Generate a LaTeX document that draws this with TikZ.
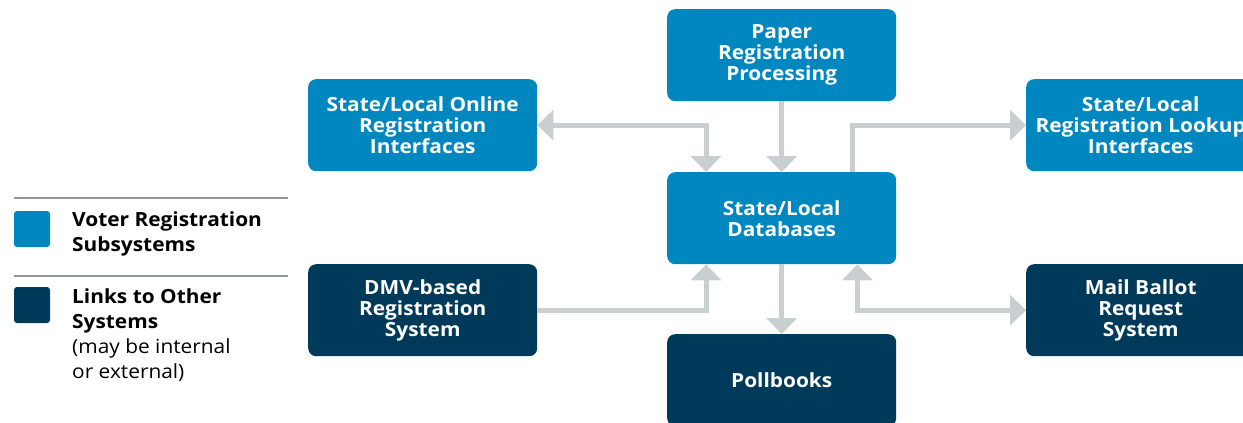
\documentclass[tikz,border=0pt]{standalone}
\usepackage{fontspec}
\setmainfont{Open Sans}[FakeStretch=1.07]
\usetikzlibrary{arrows.meta}
\definecolor{subsys}{RGB}{0,135,191}
\definecolor{links}{RGB}{0,58,90}
\definecolor{conngray}{RGB}{201,206,209}
\definecolor{rulegray}{RGB}{142,151,156}
\begin{document}
\begin{tikzpicture}[x=1pt,y=-1pt,
  sysbox/.style={rectangle,rounded corners=8pt,minimum width=229pt,minimum height=92pt,
    anchor=north west,inner sep=0pt,align=center,text=white,
    font=\bfseries\fontsize{19.5}{21}\selectfont},
  conn/.style={draw=conngray,line width=5pt,-{Triangle[length=16pt,width=30pt]}},
  legsq/.style={rectangle,rounded corners=3pt,minimum size=36pt,inner sep=0pt},
  legtext/.style={anchor=north west,inner sep=0pt,align=left,text=black,
    font=\fontsize{19.5}{25}\selectfont}]
\useasboundingbox (0,0) rectangle (1243,423);
\clip (0,0) rectangle (1243,423);
% boxes
\node[sysbox,fill=subsys] (paper) at (667,9) {Paper\\Registration\\Processing};
\node[sysbox,fill=subsys] (online) at (308,79) {State/Local Online\\Registration\\Interfaces};
\node[sysbox,fill=subsys] (lookup) at (1026,79) {State/Local\\Registration Lookup\\Interfaces};
\node[sysbox,fill=subsys] (db) at (667,172) {State/Local\\Databases};
\node[sysbox,fill=links] (dmv) at (308,264) {DMV-based\\Registration\\System};
\node[sysbox,fill=links] (mail) at (1026,264) {Mail Ballot\\Request\\System};
\node[sysbox,fill=links] (poll) at (667,334) {Pollbooks};
% connectors
\draw[conn,{Triangle[length=16pt,width=30pt]}-{Triangle[length=16pt,width=30pt]}] (online.east) -| ([xshift=39pt]db.north west);
\draw[conn] (paper.south) -- (db.north);
\draw[conn] ([xshift=-44pt]db.north east) |- (lookup.west);
\draw[conn] (dmv.east) -| ([xshift=39pt]db.south west);
\draw[conn] (db.south) -- (poll.north);
\draw[conn,{Triangle[length=16pt,width=30pt]}-{Triangle[length=16pt,width=30pt]}] ([xshift=-39pt]db.south east) |- (mail.west);
% legend
\draw[rulegray,line width=1.2pt] (14,198) -- (288,198);
\draw[rulegray,line width=1.2pt] (14,276) -- (288,276);
\node[legsq,fill=subsys] (keysub) at (32,229) {};
\node[legsq,fill=links] (keylink) at (32,305) {};
\node[legtext] (txtsub) at (72,211) {\textbf{Voter Registration}\\\textbf{Subsystems}};
\node[legtext] (txtlink) at (72,288) {\textbf{Links to Other}\\\textbf{Systems}\\(may be internal\\or external)};
\end{tikzpicture}
\end{document}
